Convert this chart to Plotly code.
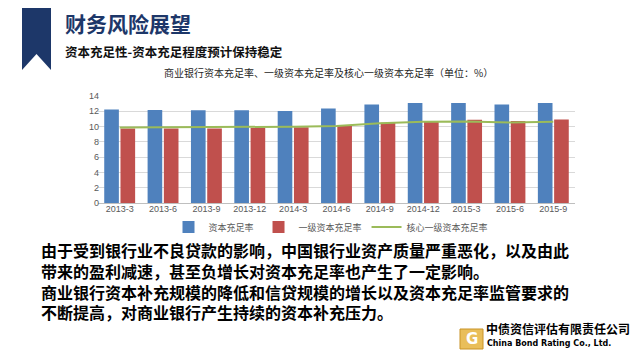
import plotly.graph_objects as go

categories = ["2013-3", "2013-6", "2013-9", "2013-12", "2014-3", "2014-6",
              "2014-9", "2014-12", "2015-3", "2015-6", "2015-9"]
car = [12.23, 12.17, 12.13, 12.13, 12.05, 12.35, 12.9, 13.1, 13.07, 12.9, 13.1]
tier1 = [9.76, 9.76, 9.76, 9.83, 9.9, 10.06, 10.5, 10.72, 10.9, 10.72, 10.93]
core_tier1 = [9.89, 9.9, 9.93, 9.95, 9.98, 10.06, 10.45, 10.63, 10.67, 10.54, 10.63]
y_ticks = [0, 2, 4, 6, 8, 10, 12, 14]
series_names = ["资本充足率", "一级资本充足率", "核心一级资本充足率"]

W, H = 640, 360
L, R, T, B = 90, 567, 88, 195


def px(x):
    return (x - L) / (R - L)


def py(y):
    return (B - y) / (B - T)


CJK = "Noto Sans CJK SC"
NAVY = "#1d3769"

fig = go.Figure()
fig.add_trace(go.Bar(x=categories, y=car, name=series_names[0],
                     marker=dict(color="#4F81BD", line=dict(width=0))))
fig.add_trace(go.Bar(x=categories, y=tier1, name=series_names[1],
                     marker=dict(color="#C0504D", line=dict(width=0))))
fig.add_trace(go.Scatter(x=categories, y=core_tier1, name=series_names[2],
                         mode="lines", line=dict(color="#9BBB59", width=2)))

annotations = [
    dict(text="财务风险展望", x=px(55), y=py(15), xanchor="left", yanchor="middle",
         font=dict(family=CJK, size=21, color=NAVY, weight=700)),
    dict(text="资本充足性-资本充足程度预计保持稳定", x=px(55), y=py(43),
         xanchor="left", yanchor="middle",
         font=dict(family=CJK, size=12.5, color="#111111", weight=700)),
    dict(text="商业银行资本充足率、一级资本充足率及核心一级资本充足率（单位：%）",
         x=px(320), y=py(64), xanchor="center", yanchor="middle",
         font=dict(family=CJK, size=10, color="#262626")),
]

body_lines = [
    "由于受到银行业不良贷款的影响，中国银行业资产质量严重恶化，以及由此",
    "带来的盈利减速，甚至负增长对资本充足率也产生了一定影响。",
    "商业银行资本补充规模的降低和信贷规模的增长以及资本充足率监管要求的",
    "不断提高，对商业银行产生持续的资本补充压力。",
]
annotations.append(dict(text="<br>".join(body_lines), x=px(31), y=py(228),
                        xanchor="left", yanchor="top", align="left",
                        font=dict(family=CJK, size=16, color="#000000", weight=700)))

annotations += [
    dict(text="中债资信评估有限责任公司", x=px(476), y=py(320), xanchor="left",
         yanchor="middle", font=dict(family=CJK, size=12, color="#000000", weight=700)),
    dict(text="China Bond Rating Co., Ltd.", x=px(477), y=py(335), xanchor="left",
         yanchor="middle", font=dict(family="DejaVu Sans", size=8, color="#000000", weight=700)),
    dict(text="<b>G</b>", x=px(463.5), y=py(331), xanchor="center", yanchor="middle",
         font=dict(family="DejaVu Sans", size=15, color="#ffffff")),
]
for a in annotations:
    a.update(xref="paper", yref="paper", showarrow=False)

ribbon = "M {},{} L {},{} L {},{} L {},{} L {},{} Z".format(
    px(14), py(0), px(43), py(0), px(43), py(62), px(28.5), py(46), px(14), py(62))

shapes = [
    dict(type="path", path=ribbon, xref="paper", yref="paper",
         fillcolor=NAVY, line=dict(width=0), layer="above"),
    dict(type="rect", xref="paper", yref="paper", x0=px(452), x1=px(475),
         y0=py(341), y1=py(321), fillcolor="#E9BE5A",
         line=dict(color="#C99326", width=1)),
]

fig.update_layout(
    width=W, height=H,
    margin=dict(l=L, r=W - R, t=T, b=H - B, pad=0),
    paper_bgcolor="#ffffff", plot_bgcolor="#ffffff",
    barmode="group", bargap=0.25, bargroupgap=0.1,
    showlegend=True,
    legend=dict(orientation="h", x=px(323), xanchor="center", y=py(219),
                yanchor="middle", font=dict(family=CJK, size=9, color="#595959"),
                bgcolor="rgba(0,0,0,0)", itemwidth=30, tracegroupgap=0),
    xaxis=dict(type="category", showgrid=False, showline=True, linecolor="#BFBFBF",
               linewidth=1, ticks="", ticklabelstandoff=-3,
               tickfont=dict(family="Liberation Sans", size=9, color="#595959"),
               fixedrange=True),
    yaxis=dict(range=[0, 14], tickvals=y_ticks, showgrid=True, gridcolor="#D9D9D9",
               gridwidth=1, zeroline=False, showline=False, ticks="",
               ticklabelstandoff=-2,
               tickfont=dict(family="Liberation Sans", size=9, color="#595959"),
               fixedrange=True),
    annotations=annotations,
    shapes=shapes,
    hovermode=False,
)

fig.write_html("out.html", config={"displayModeBar": False})
